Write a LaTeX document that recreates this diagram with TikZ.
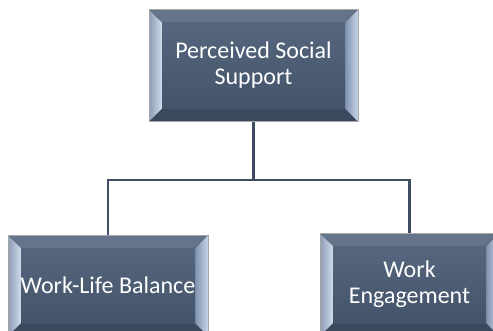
\documentclass[tikz,border=0pt]{standalone}
\usepackage{fontspec}
\setmainfont{Carlito}
\usepackage{tikz}
\usetikzlibrary{positioning}

\definecolor{faceTop}{HTML}{56667E}
\definecolor{faceBot}{HTML}{435369}
\definecolor{bevTop}{HTML}{64748B}
\definecolor{bevBot}{HTML}{3A495E}
\definecolor{bevLo}{HTML}{7F92AE}
\definecolor{bevHi}{HTML}{C6D4E8}
\definecolor{linkCol}{HTML}{3E4D63}

\begin{document}
\begin{tikzpicture}[
    x=1pt, y=-1pt,
    bevelbox/.style={rectangle, draw=gray!70, line width=0.6pt,
        top color=faceTop, bottom color=faceBot, text=white, align=center,
        font=\fontsize{24}{26}\selectfont, inner sep=0pt,
        path picture={
            % outer and inner corners of the bevel
            \path (path picture bounding box.south west) coordinate (bsw)
                  (path picture bounding box.north east) coordinate (bne)
                  ([shift={(13pt,13pt)}]bsw) coordinate (isw)
                  ([shift={(-13pt,-13pt)}]bne) coordinate (ine);
            \fill[bevTop] (bsw|-bne) -- (bne) -- (ine) -- (isw|-ine) -- cycle;
            \fill[bevBot] (bsw) -- (bne|-bsw) -- (ine|-isw) -- (isw) -- cycle;
            \fill[left color=bevLo!90, right color=bevHi!80] (bsw) -- (bsw|-bne) -- (isw|-ine) -- (isw) -- cycle;
            \fill[left color=bevLo, right color=bevHi] (bne) -- (bne|-bsw) -- (ine|-isw) -- (ine) -- cycle;
            \fill[top color=faceTop, bottom color=faceBot] (isw) rectangle (ine);
        }},
    link/.style={draw=linkCol, line width=2.2pt}
    ]
    \useasboundingbox (0,0) rectangle (493,330);

    % boxes
    \node[bevelbox, minimum width=209pt, minimum height=112pt] (pss) at (253.5,65.5) {Perceived Social\\Support};
    \node[bevelbox, minimum width=200pt, minimum height=101pt] (wlb) at (108,285.5) {Work-Life Balance};
    \node[bevelbox, minimum width=179pt, minimum height=103pt] (we) at (409.5,284.5) {Work\\Engagement};

    % connectors
    \coordinate (fork) at (253.5,180);
    \draw[link] (pss.south) -- (fork) -| (wlb.north);
    \draw[link] (fork) -| (we.north);
\end{tikzpicture}
\end{document}
